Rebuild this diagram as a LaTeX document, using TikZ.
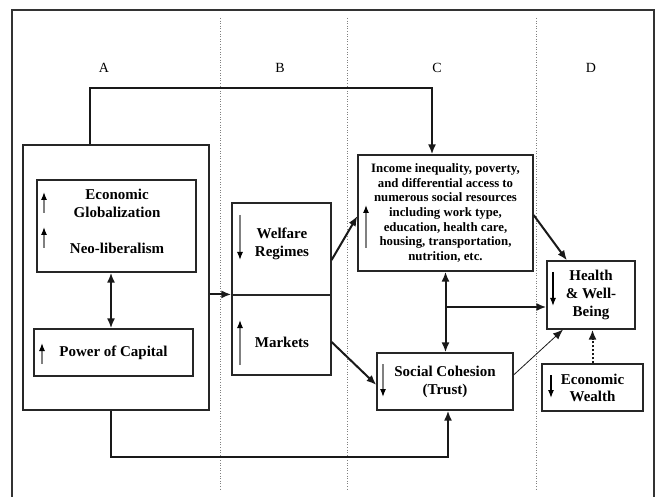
\documentclass[tikz,border=0pt]{standalone}
\usepackage{fontspec}
\setmainfont{Liberation Serif}
\usetikzlibrary{arrows.meta}
\begin{document}
\begin{tikzpicture}[x=1pt,y=-1pt,
  box/.style={draw=black!85, line width=1.2pt, inner sep=0pt, align=center, font=\fontsize{15}{18}\selectfont\bfseries},
  txt/.style={inner sep=0pt, align=center, font=\fontsize{15}{18}\selectfont\bfseries},
  lab/.style={inner sep=0pt, font=\fontsize{14}{16}\selectfont},
  tip/.tip={Latex[length=10pt,width=8pt]},
  conn/.style={line width=2pt, draw=black!90, -tip},
  dbl/.style={line width=2pt, draw=black!90, tip-tip},
  thin/.style={line width=0.8pt, draw=black!90, -tip},
  dotconn/.style={line width=2pt, draw=black!90, dotted, -{Latex[length=10pt,width=8pt]}},
  ind/.style={draw=gray, line width=1.2pt, -{Latex[color=black,length=8pt,width=6pt]}},
  indb/.style={draw=black, line width=1.2pt, -{Latex[color=black,length=8pt,width=6pt]}},
  sep/.style={draw=gray, line width=0.6pt, dotted},
]
\useasboundingbox (0,0) rectangle (659,497);
% frame
\draw[line width=1.4pt, black!80] (12,497) -- (12,10) -- (654,10) -- (654,497);
% separators
\draw[sep] (220,18) -- (220,490);
\draw[sep] (347,18) -- (347,490);
\draw[sep] (536,18) -- (536,490);
% column labels
\node[lab] (la) at (104,68) {A};
\node[lab] (lb) at (280,68) {B};
\node[lab] (lc) at (437,68) {C};
\node[lab] (ld) at (591,68) {D};
% boxes
\node[box, minimum width=186pt, minimum height=265pt] (abox) at (116,277.5) {};
\node[box, minimum width=159pt, minimum height=92pt] (glob) at (116.5,226) {};
\node[txt] (globt) at (117,203.5) {Economic\\Globalization};
\node[txt] (neot) at (117,248) {Neo-liberalism};
\node[box, minimum width=159pt, minimum height=47pt] (cap) at (113.5,352.5) {Power of Capital};
\node[box, minimum width=99pt, minimum height=92pt] (welfare) at (281.5,249) {};
\node[box, minimum width=99pt, minimum height=80pt] (markets) at (281.5,335) {};
\node[txt] (welfaret) at (282,244) {Welfare\\Regimes};
\node[txt] (marketst) at (282,342) {Markets};
\node[box, minimum width=175pt, minimum height=116pt, font=\fontsize{12.8}{14.7}\selectfont\bfseries] (cbox) at (445.5,213)
  {Income inequality, poverty,\\and differential access to\\numerous social resources\\including work type,\\education, health care,\\housing, transportation,\\nutrition, etc.};
\node[box, minimum width=88pt, minimum height=68pt] (health) at (591,295) {Health\\\& Well-\\Being};
\node[box, minimum width=136pt, minimum height=57pt] (social) at (445,381.5) {Social Cohesion\\(Trust)};
\node[box, minimum width=101pt, minimum height=47pt, font=\fontsize{15}{17}\selectfont\bfseries] (wealth) at (592.5,387.5) {Economic\\Wealth};
% indicator arrows
\draw[ind] (44,213) -- (44,192);
\draw[ind] (44,248) -- (44,227);
\draw[ind] (42,364) -- (42,343);
\draw[ind] (240,215) -- (240,260);
\draw[ind] (240,365) -- (240,320);
\draw[ind] (366,248) -- (366,205);
\draw[ind] (383,364) -- (383,397);
\draw[indb] (553,272) -- (553,306);
\draw[indb] (551,375) -- (551,398);
% connectors
\coordinate (topL) at (90,88);
\draw[conn] (abox.north -| topL) -- (topL) -| ([xshift=-13.5pt]cbox.north);
\coordinate (botL) at (111,457);
\draw[conn] (abox.south -| botL) -- (botL) -| ([xshift=3pt]social.south);
\draw[conn] (abox.east |- markets.north west) -- (markets.north west);
\draw[dbl] ([xshift=-5.5pt]glob.south) -- ([xshift=-2.5pt]cap.north);
\draw[conn] ([yshift=-11pt]welfare.east) -- ([yshift=-3pt]cbox.west);
\draw[conn] ([yshift=-7pt]markets.east) -- ([yshift=-3.5pt]social.west);
\draw[dbl] (cbox.south) -- (cbox.south |- social.north);
\coordinate (br) at (445.5,307);
\draw[conn] (br) -- (health.west |- br);
\draw[conn] ([yshift=-2pt]cbox.east) -- ([xshift=-24pt]health.north);
\draw[thin] ([yshift=6.5pt]social.east) -- ([xshift=-28pt]health.south);
\draw[dotconn] (wealth.north) -- (health.south -| wealth.north);
\end{tikzpicture}
\end{document}
